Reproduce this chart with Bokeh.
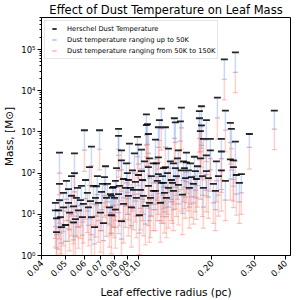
import math
from bokeh.plotting import figure
from bokeh.models import (ColumnDataSource, FixedTicker, LogTicker, CustomJSTickFormatter,
                          Legend, LegendItem, Range1d)
from bokeh.embed import file_html
from bokeh.resources import INLINE

# ---------------- data ----------------
radius = [
    0.0456, 0.0456, 0.0461, 0.0461, 0.0474, 0.0474, 0.0474, 0.0478, 0.0492, 0.0492,
    0.0502, 0.0516, 0.0516, 0.0521, 0.0531, 0.0531, 0.0541, 0.0546, 0.0551, 0.0556,
    0.0562, 0.0567, 0.0546, 0.0483, 0.0578, 0.0600, 0.0692, 0.0641, 0.0629, 0.0606,
    0.0617, 0.0623, 0.0641, 0.0653, 0.0666, 0.0672, 0.0685, 0.0698, 0.0705, 0.0725,
    0.0718, 0.0739, 0.0746, 0.0760, 0.0767, 0.0774, 0.0589, 0.0594, 0.0660, 0.0678,
    0.0711, 0.0732, 0.0782, 0.0828, 0.0828, 0.0851, 0.0851, 0.0918, 0.0962, 0.0990,
    0.0999, 0.1077, 0.1077, 0.1088, 0.1098, 0.1028, 0.1057, 0.1098, 0.1028, 0.0999,
    0.0909, 0.0868, 0.0804, 0.0789, 0.0971, 0.1018, 0.1098, 0.0909, 0.0828, 0.0774,
    0.0804, 0.0868, 0.0935, 0.0980, 0.1047, 0.1119, 0.1067, 0.0884, 0.0944, 0.1129,
    0.1151, 0.1008, 0.0851, 0.0927, 0.0812, 0.1173, 0.1206, 0.1218, 0.1241, 0.1173,
    0.1265, 0.1289, 0.1351, 0.1390, 0.1416, 0.1416, 0.1430, 0.1457, 0.1485, 0.1499,
    0.1514, 0.1528, 0.1557, 0.1572, 0.1572, 0.1602, 0.1648, 0.1695, 0.1711, 0.1727,
    0.1794, 0.1794, 0.1811, 0.1265, 0.1326, 0.1364, 0.1301, 0.1390, 0.1457, 0.1230,
    0.1617, 0.1206, 0.1326, 0.1184, 0.1241, 0.1403, 0.1499, 0.1206, 0.1289, 0.1845,
    0.1898, 0.1898, 0.1971, 0.1971, 0.2086, 0.2106, 0.2187, 0.2187, 0.2187, 0.2249,
    0.2380, 0.2403, 0.2380, 0.2449, 0.2449, 0.2496, 0.2496, 0.2519, 0.2848, 0.3605,
    0.1934, 0.2028, 0.2126, 0.2271, 0.1845, 0.2067, 0.2592, 0.2641, 0.1811, 0.1777,
    0.1777, 0.1898, 0.2271, 0.0892, 0.1038, 0.1108, 0.1151, 0.1253, 0.1314, 0.1377,
    0.1444, 0.1542, 0.1632, 0.1679, 0.1744, 0.1828, 0.0797, 0.0835, 0.0900, 0.0953,
    0.1108, 0.1195, 0.1277, 0.0583, 0.0635, 0.0506, 0.0470, 0.0541,
]
mass_herschel = [
    19, 12.5, 8, 3.7, 316, 55, 22, 8.5, 33, 14.7,
    5.5, 41, 19, 11, 85, 28, 15.5, 300, 7.6, 25,
    44, 12.5, 100, 4.9, 22, 1100, 1100, 440, 140, 68,
    33, 14.7, 8.5, 49, 25, 48, 19, 11, 35, 80,
    6.1, 25, 55, 14.7, 31, 9.5, 8.5, 18, 4.9, 85,
    55, 147, 44, 1180, 800, 355, 205, 520, 300, 760,
    490, 2680, 1460, 1550, 890, 370, 193, 140, 112, 90,
    68, 72, 65, 46, 61, 39, 49, 28, 31, 28,
    13, 18, 14.7, 25, 28, 25, 16, 44, 117, 85,
    37, 9.5, 6.8, 44, 132, 650, 240, 1940, 58, 37,
    132, 140, 193, 173, 1700, 132, 85, 355, 1800, 117,
    30, 193, 76, 315, 182, 117, 80, 250, 112, 72,
    1050, 227, 1450, 58, 44, 68, 25, 37, 52, 19,
    44, 95, 395, 173, 3700, 2150, 3900, 1300, 1300, 680,
    270, 112, 680, 355, 193, 6800, 680, 335, 117, 58000,
    1650, 1180, 215, 205, 140, 85000, 580, 90, 890, 3300,
    76, 55, 85, 65, 44, 37, 58, 95, 4200, 3200,
    2150, 1940, 3300, 173, 68, 227, 173, 85, 100, 58,
    227, 132, 173, 55, 147, 85, 25, 49, 100, 39,
    19, 65, 33, 49, 21, 65, 12.5, 6.4,
]
mass_50k = [
    8, 5, 3.2, 1.5, 100, 20, 8, 3.5, 12, 5.5,
    2.2, 15, 7, 4.2, 30, 10, 6, 95, 3, 9,
    16, 4.8, 35, 2, 8.5, 360, 380, 150, 50, 24,
    12, 5.4, 3.2, 18, 9, 17, 7, 4, 13, 28,
    2.3, 9.5, 20, 5.5, 11, 3.5, 3.1, 6.5, 1.9, 30,
    19, 50, 16, 380, 270, 120, 70, 175, 100, 250,
    165, 850, 480, 500, 300, 125, 65, 48, 38, 31,
    24, 25, 23, 16.5, 21, 14, 17, 10, 11, 10.2,
    4.8, 6.5, 5.3, 9, 10, 9, 5.8, 16, 40, 29,
    13, 3.5, 2.5, 15.5, 45, 220, 82, 620, 20, 13,
    45, 48, 66, 58, 560, 45, 29, 120, 600, 40,
    10.5, 66, 26, 105, 62, 40, 27, 85, 38, 25,
    340, 77, 470, 20, 15, 23, 8.8, 13, 18, 7,
    15, 32, 130, 58, 1200, 700, 1250, 420, 430, 230,
    92, 38, 225, 120, 65, 2200, 225, 112, 40, 19000,
    550, 390, 72, 70, 48, 28000, 195, 31, 420, 1170,
    26, 19, 29, 22, 15, 13, 20, 33, 1350, 1050,
    700, 640, 1100, 58, 23, 76, 58, 29, 34, 20,
    77, 45, 58, 19, 50, 29, 9, 17, 34, 14,
    7, 22, 11.5, 17, 7.8, 23, 4.7, 2.4,
]
mass_150k = [
    2.6, 1.6, 1.0, 0.5, 30, 6, 2.5, 1.1, 3.8, 1.7,
    0.7, 4.5, 2.2, 1.3, 9, 3, 1.9, 28, 0.95, 2.8,
    5, 1.5, 11, 0.6, 2.6, 110, 120, 45, 15, 7.5,
    3.6, 1.7, 1.0, 5.5, 2.8, 5.2, 2.1, 1.2, 4, 8.5,
    0.7, 2.9, 6, 1.6, 3.4, 1.1, 0.95, 2, 0.6, 9,
    6, 15, 4.8, 115, 80, 36, 21, 52, 30, 75,
    50, 250, 145, 150, 90, 38, 20, 14, 11.5, 9.5,
    7.3, 7.6, 7, 5, 6.5, 4.2, 5.3, 3, 3.4, 3.1,
    1.5, 2, 1.6, 2.7, 3, 2.7, 1.8, 4.8, 12, 9,
    4, 1.05, 0.75, 4.7, 13.5, 65, 25, 185, 6, 4,
    13.5, 14.5, 20, 17.5, 170, 13.5, 8.8, 36, 180, 12,
    3.2, 20, 8, 32, 19, 12, 8.3, 26, 11.5, 7.5,
    100, 23, 140, 6, 4.6, 7, 2.7, 4, 5.5, 2.1,
    4.6, 10, 40, 17.5, 360, 210, 380, 125, 130, 68,
    28, 11.5, 68, 36, 20, 660, 68, 34, 12, 6000,
    165, 118, 22, 21, 14.5, 9000, 58, 9.5, 125, 370,
    8, 6, 9, 7, 4.6, 4, 6, 10, 400, 320,
    210, 190, 330, 17, 7, 23, 17.5, 8.8, 10, 6,
    23, 13.5, 17.5, 5.8, 15, 8.8, 2.7, 5.2, 10, 4.2,
    2.1, 7, 3.5, 5.2, 2.4, 7, 1.4, 0.75,
]
x_ticks = [0.04, 0.05, 0.06, 0.07, 0.08, 0.09, 0.10, 0.20, 0.30, 0.40]
x_limits = (0.04, 0.42)
y_limits = (1, 6e5)
labels = ["Herschel Dust Temperature",
          "Dust temperature ranging up to 50K",
          "Dust temperature ranging from 50K to 150K"]

BLUE = "#6495ed"
RED = "#fa8072"
FONT = "DejaVu Sans"

src = ColumnDataSource(dict(r=radius, mh=mass_herschel, m50=mass_50k, m150=mass_150k))

p = figure(frame_width=249, frame_height=238, x_axis_type="log", y_axis_type="log",
           x_range=Range1d(*x_limits), y_range=Range1d(*y_limits),
           output_backend="svg", toolbar_location=None,
           title="Effect of Dust Temperature on Leaf Mass",
           min_border_left=0, min_border_right=4, min_border_top=0, min_border_bottom=0)

p.title.text_font = FONT
p.title.text_font_size = "11.5px"
p.title.text_font_style = "normal"
p.title.text_color = "black"
p.title.align = "center"
p.title.standoff = 1
p.title.offset = 0

p.xgrid.visible = False
p.ygrid.visible = False
p.outline_line_color = "black"
p.outline_line_alpha = 1
p.background_fill_color = "white"

# blue error bars (Herschel -> 50K)
p.segment(x0="r", y0="m50", x1="r", y1="mh", source=src,
          line_color=BLUE, line_alpha=0.35, line_width=1.5)
p.scatter(x="r", y="m50", source=src, marker="dash", size=5,
          line_color=BLUE, line_alpha=0.4, line_width=1.2)
# red error bars (50K -> 150K)
p.segment(x0="r", y0="m150", x1="r", y1="m50", source=src,
          line_color=RED, line_alpha=0.35, line_width=1.5)
p.scatter(x="r", y="m150", source=src, marker="dash", size=5,
          line_color=RED, line_alpha=0.45, line_width=1.2)
p.scatter(x="r", y="m50", source=src, marker="dash", size=5,
          line_color=RED, line_alpha=0.3, line_width=1.2)
# Herschel markers
black = p.scatter(x="r", y="mh", source=src, marker="dash", size=7,
                  line_color="black", line_alpha=0.85, line_width=1.8)

# legend proxies (NaN position: never drawn in the data area)
nan = float("nan")
blue_proxy = p.scatter(x=[nan], y=[nan], marker="dash", angle=math.pi / 2, size=8,
                       line_color=BLUE, line_alpha=0.55, line_width=1.5)
red_proxy = p.scatter(x=[nan], y=[nan], marker="dash", angle=math.pi / 2, size=8,
                      line_color=RED, line_alpha=0.55, line_width=1.5)

legend = Legend(items=[LegendItem(label=labels[0], renderers=[black]),
                       LegendItem(label=labels[1], renderers=[blue_proxy]),
                       LegendItem(label=labels[2], renderers=[red_proxy])],
                location="top_left")
legend.label_text_font = FONT
legend.label_text_font_size = "6.7px"
legend.label_text_color = "black"
legend.glyph_height = 11
legend.glyph_width = 14
legend.label_height = 9
legend.label_standoff = 6
legend.spacing = 0
legend.padding = 2
legend.margin = 3
legend.border_line_color = "#cccccc"
legend.background_fill_alpha = 0.8
p.add_layout(legend)

# axes
for ax in (p.xaxis[0], p.yaxis[0]):
    ax.axis_line_color = "black"
    ax.major_tick_line_color = "black"
    ax.minor_tick_line_color = "black"
    ax.major_tick_in = 0
    ax.major_tick_out = 4
    ax.minor_tick_in = 0
    ax.minor_tick_out = 2
    ax.major_label_text_font = FONT
    ax.major_label_text_font_size = "8.5px"
    ax.major_label_text_color = "black"
    ax.axis_label_text_font = FONT
    ax.axis_label_text_font_size = "10.5px"
    ax.axis_label_text_font_style = "normal"
    ax.axis_label_text_color = "black"
    ax.major_label_standoff = 2
    ax.axis_label_standoff = 3

p.xaxis.ticker = FixedTicker(ticks=x_ticks)
p.xaxis.formatter = CustomJSTickFormatter(code="return tick.toFixed(2);")
p.xaxis.major_label_orientation = math.pi / 4
p.xaxis.axis_label = "Leaf effective radius (pc)"

p.yaxis.ticker = LogTicker(desired_num_ticks=6, num_minor_ticks=10)
p.yaxis.formatter = CustomJSTickFormatter(code="""
const sup = {"0":"\u2070","1":"\u00b9","2":"\u00b2","3":"\u00b3","4":"\u2074",
             "5":"\u2075","6":"\u2076","7":"\u2077","8":"\u2078","9":"\u2079","-":"\u207b"};
const e = Math.round(Math.log10(tick));
return "10" + String(e).split("").map(c => sup[c]).join("");
""")
p.yaxis.axis_label = "Mass, [M\u2299]"

with open("out.html", "w", encoding="utf-8") as f:
    f.write(file_html(p, INLINE))
